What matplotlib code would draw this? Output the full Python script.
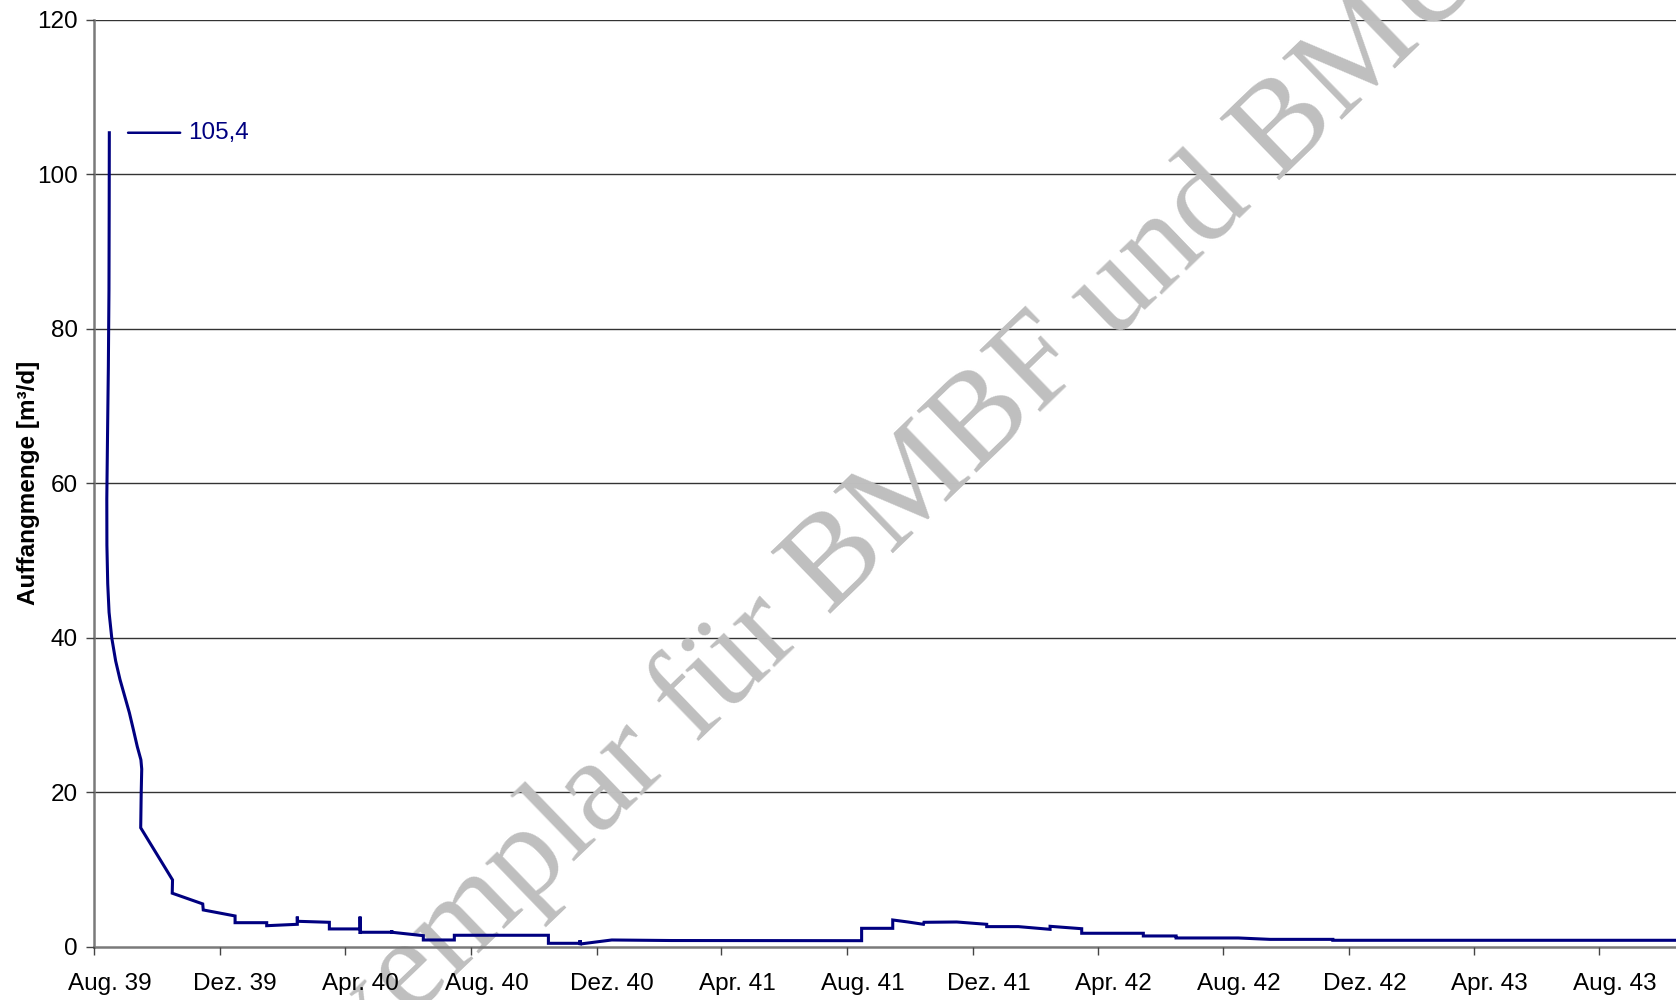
import matplotlib
matplotlib.use('Agg')
import matplotlib.pyplot as plt
import numpy as np
import pandas as pd

plt.rcParams['font.family'] = ['Liberation Sans', 'DejaVu Sans']

# Daten (Tage seit Messbeginn 01.08.39, Auffangmenge in m³/d)
start_date = pd.Timestamp('1939-08-01')
days = [14.85, 14.7, 14.5, 13.9, 13.0, 12.4, 12.5, 13.3, 14.6, 17.2, 21.0, 25.2,
        34.3, 38.2, 42.0, 45.5, 46.3, 45.8, 45.3, 76.2, 75.9, 105.5, 106.0,
        136.9, 136.9, 167.6, 167.6, 197.3, 197.3, 197.4, 228.4, 228.4, 258.2,
        258.2, 258.3, 258.4, 288.9, 288.9, 289.0, 319.6, 319.6, 349.7, 349.7,
        441.0, 441.0, 471.7, 471.7, 471.8, 471.9, 502.5, 560.0, 745.0, 745.0,
        775.2, 775.2, 790.0, 805.0, 805.5, 837.3, 866.4, 866.4, 897.1, 927.9,
        927.9, 958.6, 958.6, 1018.4, 1018.4, 1050.2, 1050.2, 1110.6, 1141.4,
        1202.3, 1202.3, 1535.4]
values = [105.4, 95.0, 85.0, 75.0, 65.0, 58.0, 52.0, 47.0, 43.3, 40.0, 37.0, 34.6,
          30.3, 28.1, 25.9, 24.2, 23.0, 20.0, 15.4, 8.65, 6.93, 5.54, 4.76,
          3.98, 3.11, 3.11, 2.72, 2.90, 3.90, 3.29, 3.16, 2.30, 2.30,
          3.90, 1.65, 1.87, 1.87, 2.15, 1.87, 1.43, 0.87, 0.87, 1.48,
          1.48, 0.44, 0.44, 0.85, 0.20, 0.35, 0.87, 0.80, 0.78, 2.38,
          2.38, 3.46, 3.20, 2.90, 3.16, 3.20, 2.90, 2.60, 2.60, 2.25,
          2.64, 2.33, 1.74, 1.74, 1.39, 1.39, 1.13, 1.13, 0.95,
          0.95, 0.83, 0.83]
peak_label = '105,4'

tick_months = pd.date_range('1939-08-01', '1943-08-01', freq='4MS')
tick_labels = ['Aug. 39', 'Dez. 39', 'Apr. 40', 'Aug. 40', 'Dez. 40', 'Apr. 41',
               'Aug. 41', 'Dez. 41', 'Apr. 42', 'Aug. 42', 'Dez. 42', 'Apr. 43',
               'Aug. 43']
y_ticks = [0, 20, 40, 60, 80, 100, 120]
ylabel = 'Auffangmenge [m³/d]'
watermark = 'Exemplar für BMBF und BMU'

line_color = '#000080'
dates = start_date + pd.to_timedelta(days, unit='D')

fig = plt.figure(figsize=(16.76, 10), dpi=100)
ax = fig.add_axes([0.0561, 0.0533, 0.9439, 0.9267])

# Gitterlinien unter dem Wasserzeichen
for yv in y_ticks[1:]:
    ax.axhline(yv, color='#333333', linewidth=1.0, zorder=1)

ax.plot(dates, values, color=line_color, linewidth=2.2, zorder=3,
        solid_joinstyle='miter')

# Spitzenwert beschriften
i_max = int(np.argmax(values))
ax.annotate(peak_label, xy=(dates[i_max], values[i_max]), xytext=(57, 0),
            textcoords='offset points', ha='left', va='center',
            fontsize=17.5, color=line_color, annotation_clip=False,
            arrowprops=dict(arrowstyle='-', color=line_color, lw=1.8,
                            shrinkA=4, shrinkB=13.5))

ax.set_ylim(0, 120)
ax.set_yticks(y_ticks)
ax.set_xlim(start_date, start_date + pd.Timedelta(days=1535.4))

ax.set_xticks(tick_months)
ax.set_xticklabels([])
ax.set_xticks(tick_months + pd.Timedelta(days=15), minor=True)
ax.set_xticklabels(tick_labels, minor=True)
ax.set_axisbelow(False)

for s in ['top', 'right']:
    ax.spines[s].set_visible(False)
for s in ['left', 'bottom']:
    ax.spines[s].set_color('#7a7a7a')
    ax.spines[s].set_linewidth(1.8)

ax.tick_params(axis='y', which='major', direction='out', length=5.8, width=1,
               color='#444444', labelsize=17.5, pad=6)
ax.tick_params(axis='x', which='major', direction='out', length=5.8, width=1,
               color='#444444')
ax.tick_params(axis='x', which='minor', length=0, labelsize=17.5, pad=19)

ax.set_ylabel(ylabel, fontsize=17.5, fontweight='bold')
ax.yaxis.set_label_coords(-0.034, 0.5)

# Wasserzeichen
ax.text(0.183, -0.120, watermark, fontsize=94, color='#bfbfbf',
        family=['Liberation Serif', 'DejaVu Serif'], rotation=44.0,
        rotation_mode='anchor', ha='left', va='baseline', zorder=2,
        transform=fig.transFigure, clip_on=False)

fig.savefig('out.png', dpi=100)
